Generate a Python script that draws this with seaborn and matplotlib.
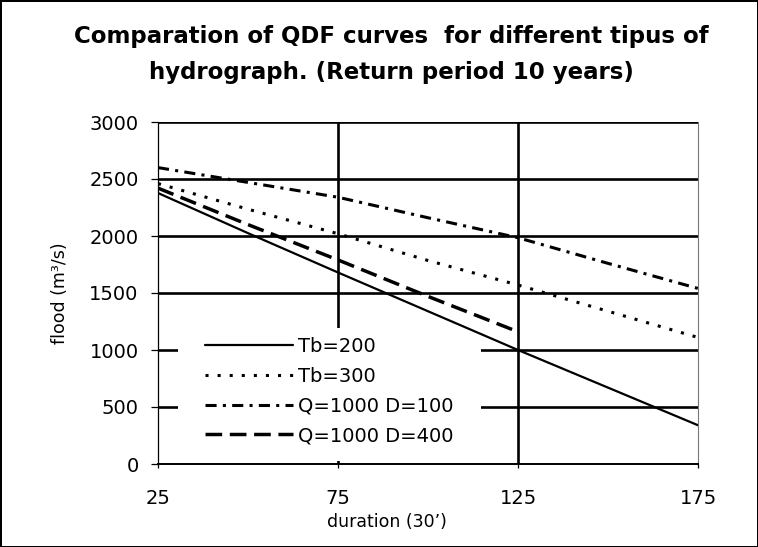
import matplotlib
matplotlib.use("Agg")
import matplotlib.pyplot as plt
from matplotlib.patches import Rectangle
import seaborn as sns
import pandas as pd

# QDF curves, return period 10 years
duration = [25, 50, 75, 100, 125, 150, 175]
tb200 = [2377, 2025, 1680, 1340, 1000, 670, 340]
tb300 = [2460, 2235, 2020, 1785, 1570, 1340, 1110]
q1000_d100 = [2600, 2470, 2340, 2160, 1985, 1760, 1540]
duration_d400 = [25, 50, 75, 100, 125]
q1000_d400 = [2420, 2100, 1790, 1470, 1160]

series_labels = ["Tb=200", "Tb=300", "Q=1000 D=100", "Q=1000 D=400"]
x_ticks = [25, 75, 125, 175]
y_ticks = [0, 500, 1000, 1500, 2000, 2500, 3000]

sns.set_style("white")
plt.rcParams["font.family"] = ["DejaVu Sans"]
plt.rcParams["lines.scale_dashes"] = False
for key in ["text.color", "axes.labelcolor", "xtick.color", "ytick.color",
            "xtick.labelcolor", "ytick.labelcolor"]:
    plt.rcParams[key] = "black"

fig = plt.figure(figsize=(7.58, 5.47), dpi=100)
fig.patch.set_facecolor("white")
fig.patch.set_edgecolor("black")
fig.patch.set_linewidth(2.0)
ax = fig.add_axes([158 / 758, 1 - 464 / 547, 540 / 758, 342 / 547])

frames = [
    pd.DataFrame({"duration": duration, "flood": tb200}),
    pd.DataFrame({"duration": duration, "flood": tb300}),
    pd.DataFrame({"duration": duration, "flood": q1000_d100}),
    pd.DataFrame({"duration": duration_d400, "flood": q1000_d400}),
]
styles = [
    dict(linestyle="-", linewidth=1.6),
    dict(linestyle=(0, (2.2, 6.5)), linewidth=2.2),
    dict(linestyle=(0, (8, 4.5, 2.2, 4.5)), linewidth=2.2),
    dict(linestyle=(0, (12, 5.5)), linewidth=2.5),
]
for df, lab, st in zip(frames, series_labels, styles):
    sns.lineplot(data=df, x="duration", y="flood", ax=ax, color="black",
                 label=lab, zorder=4, **st)

ax.set_xlim(25, 175)
ax.set_ylim(0, 3000)
ax.set_xticks(x_ticks)
ax.set_yticks(y_ticks)

# heavy gridlines
for yv in y_ticks[1:]:
    ax.axhline(yv, color="black", linewidth=1.9, zorder=1)
for xv in [75, 125]:
    ax.axvline(xv, color="black", linewidth=1.9, zorder=1)

for side in ["top", "right", "left", "bottom"]:
    ax.spines[side].set_visible(True)
ax.spines["left"].set_color("black")
ax.spines["left"].set_linewidth(0.9)
ax.spines["bottom"].set_color("black")
ax.spines["bottom"].set_linewidth(1.4)
ax.spines["right"].set_color("#777777")
ax.spines["right"].set_linewidth(0.8)
ax.spines["top"].set_visible(False)

ax.tick_params(axis="y", direction="out", length=5, width=0.9, pad=9,
               labelsize=14, left=True, color="black", labelcolor="black")
ax.tick_params(axis="x", direction="out", length=3, width=0.9, pad=15,
               labelsize=14, bottom=True, color="black", labelcolor="black")

ax.set_xlabel("")
ax.set_ylabel("")
fig.text(387 / 758, 1 - 522 / 547, "duration (30’)", ha="center", va="center",
         fontsize=12.5, color="black")
fig.text(60 / 758, 1 - 293 / 547, "flood (m³/s)", ha="center", va="center",
         rotation=90, fontsize=12.5, color="black")

fig.text(391 / 758, 1 - 54.5 / 547,
         "Comparation of QDF curves  for different tipus of\nhydrograph. (Return period 10 years)",
         ha="center", va="center", fontsize=16.5, fontweight="bold",
         linespacing=1.7, color="black")

# white backing for the legend block
ax.add_patch(Rectangle((20 / 540, 3 / 342), 303 / 540, 133 / 342,
                       transform=ax.transAxes, facecolor="white",
                       edgecolor="none", zorder=2))
leg = ax.legend(loc="upper left", bbox_to_anchor=(47 / 540, 127 / 342),
                frameon=False, fontsize=14, handlelength=4.5,
                handletextpad=0.3, labelspacing=0.55, borderpad=0,
                borderaxespad=0)
for t in leg.get_texts():
    t.set_color("black")
leg.set_zorder(5)

fig.savefig("out.png", dpi=100, facecolor=fig.get_facecolor(),
            edgecolor=fig.get_edgecolor())
